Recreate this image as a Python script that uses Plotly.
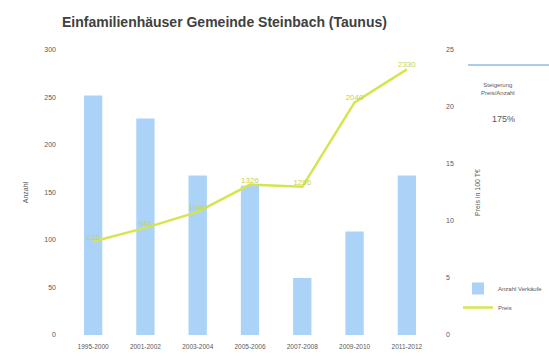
import plotly.graph_objects as go

categories = ["1995-2000", "2001-2002", "2003-2004", "2005-2006", "2007-2008", "2009-2010", "2011-2012"]
anzahl = [252, 228, 168, 157, 60, 109, 168]
preis = [8.2, 9.4, 10.8, 13.2, 13.0, 20.4, 23.3]
preis_labels = ["822", "941", "1080", "1326", "1296", "2040", "2330"]
left_ticks = [0, 50, 100, 150, 200, 250, 300]
right_ticks = [0, 5, 10, 15, 20, 25]

bar_color = "#aad3f7"
line_color = "#d6e44e"
label_color = "#c9d445"
font_family = "Liberation Sans"
gray = "#595959"

L, R, T, B = 67, 116, 50, 24
W, H = 549, 359
PW = W - L - R
PH = H - T - B


def px(x):
    return (x - L) / PW


def py(y):
    return (H - B - y) / PH


fig = go.Figure()
fig.add_trace(go.Bar(
    x=categories, y=anzahl, name="Anzahl Verkäufe",
    marker=dict(color=bar_color, line=dict(width=0)), width=0.35,
))
fig.add_trace(go.Scatter(
    x=categories, y=preis, name="Preis", yaxis="y2",
    mode="lines+text", text=preis_labels, textposition="top center",
    textfont=dict(color=label_color, size=8, family=font_family),
    line=dict(color=line_color, width=2.5),
))

fig.update_layout(
    width=W, height=H,
    margin=dict(l=L, r=R, t=T, b=B, autoexpand=False),
    paper_bgcolor="white", plot_bgcolor="white",
    font=dict(family=font_family, size=8, color=gray),
    title=dict(text="<b>Einfamilienhäuser Gemeinde Steinbach (Taunus)</b>",
               x=62/W, xanchor="left", y=1-22/H, yanchor="middle",
               font=dict(size=14, color="#404040", family=font_family)),
    showlegend=True,
    legend=dict(x=px(458), y=py(274), xanchor="left", yanchor="top",
                font=dict(size=6, color=gray), bgcolor="rgba(0,0,0,0)",
                itemwidth=30, tracegroupgap=0),
    xaxis=dict(showgrid=False, showline=False, ticks="", automargin=False,
               ticklabelstandoff=6, tickfont=dict(size=6.5, color=gray)),
    yaxis=dict(range=[0, 300], tickvals=left_ticks, showgrid=False, zeroline=False,
               automargin=False, ticklabelstandoff=10,
               title=dict(text="Anzahl", font=dict(size=7, color=gray), standoff=14),
               tickfont=dict(size=7, color=gray)),
    yaxis2=dict(range=[0, 25], tickvals=right_ticks, overlaying="y", side="right",
                showgrid=False, zeroline=False, automargin=False, ticklabelstandoff=12,
                title=dict(text="Preis in 100 T€", font=dict(size=7, color=gray), standoff=22),
                tickfont=dict(size=7, color=gray)),
    shapes=[dict(type="line", xref="paper", yref="paper",
                 x0=px(468), x1=px(549), y0=py(65), y1=py(65),
                 line=dict(color="#5b9bd5", width=1.2))],
    annotations=[
        dict(text="Steigerung<br>Preis/Anzahl", xref="paper", yref="paper",
             x=px(517), y=py(80), showarrow=False, font=dict(size=6, color=gray),
             align="center"),
        dict(text="175%", xref="paper", yref="paper",
             x=px(517), y=py(112), showarrow=False, font=dict(size=9, color=gray)),
    ],
)

fig.write_html("out.html")
